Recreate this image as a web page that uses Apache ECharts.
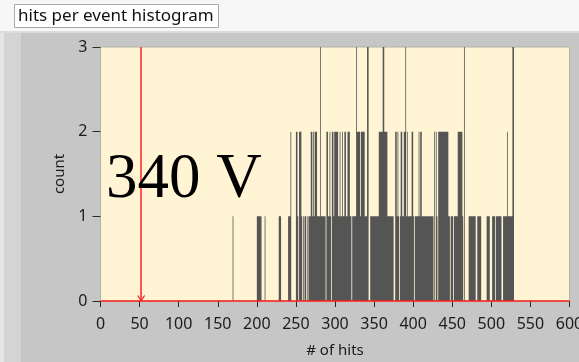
<!DOCTYPE html>
<html>
<head>
<meta charset="utf-8">
<script src="https://cdn.jsdelivr.net/npm/echarts@6/dist/echarts.min.js"></script>
<style>
  html, body { margin: 0; padding: 0; background: #f7f7f7; }
  #chart {
    width: 579px;
    height: 362px;
    background:
      linear-gradient(#f7f7f7, #f7f7f7) 0 0 / 100% 31px no-repeat,
      linear-gradient(#dcdcdc, #dcdcdc) 0 31px / 100% 2px no-repeat,
      linear-gradient(to right, #e6e6e6 0 4px, #d4d4d4 4px 21px, #c6c6c6 21px) 0 33px / 100% 329px no-repeat;
  }
</style>
</head>
<body>
<div id="chart"></div>
<script>
// Histogram of hits per event: counts for every hit value starting at firstHit.
const firstHit = 160;
const counts = [
  0,0,0,0,0,0,0,0,0,1, 0,0,0,0,0,0,0,0,0,0,   // 160-179
  0,0,0,0,0,0,0,0,0,0, 0,0,0,0,0,0,0,0,0,0,   // 180-199
  1,1,1,1,1,1,0,0,0,0, 1,0,0,0,0,0,0,0,0,0,   // 200-219
  0,0,0,0,0,0,0,0,1,1, 1,0,0,0,0,0,0,0,0,0,   // 220-239
  1,1,1,2,0,0,0,0,0,0, 2,2,1,0,2,2,2,1,0,1,   // 240-259
  0,1,1,0,1,0,1,1,1,2, 2,1,2,1,2,2,2,1,1,1,   // 260-279
  1,3,1,1,1,1,1,1,0,2, 2,1,1,2,1,0,2,2,1,2,   // 280-299
  2,2,2,2,1,1,2,1,1,2, 1,1,2,2,1,1,2,2,2,1,   // 300-319
  1,0,1,1,1,1,1,3,2,2, 2,2,1,2,2,2,2,2,1,1,   // 320-339
  1,3,3,0,0,1,1,1,1,1, 1,1,1,1,1,1,2,2,2,2,   // 340-359
  2,3,3,2,2,2,2,1,1,1, 1,1,1,1,1,0,0,2,2,1,   // 360-379
  2,1,0,1,2,2,1,1,2,2, 3,1,2,1,1,1,1,1,2,2,   // 380-399
  1,0,1,1,1,1,1,2,1,2, 2,1,1,1,1,1,1,1,1,1,   // 400-419
  1,1,1,1,1,1,0,2,0,2, 1,0,2,2,2,2,2,2,2,2,   // 420-439
  2,2,2,2,2,1,1,0,1,1, 1,0,1,1,1,1,1,2,2,2,   // 440-459
  2,2,2,1,0,3,0,0,0,0, 0,1,1,1,1,1,1,1,1,1,   // 460-479
  0,0,1,1,1,1,1,0,0,0, 0,0,0,0,1,1,1,1,0,0,   // 480-499
  0,1,1,1,1,0,1,1,1,1, 1,1,1,0,0,1,1,1,1,1,   // 500-519
  2,1,1,1,1,1,1,3,3,0, 0,0,0,0,0,0,0,0,0,0    // 520-539
];

// Axis ranges and the cursor position
const xRange = [0, 600];
const xStep = 50;
const yRange = [0, 3];
const yStep = 1;
const cursorHit = 52;

const titleText = 'hits per event histogram';
const noteText = '340 V';

// Outline of the histogram in data units: each bin h covers [h, h + 1) at its count
const outline = [[xRange[0], 0]];
for (let i = 0; i < counts.length; i++) {
  const h = firstHit + i;
  outline.push([h, counts[i]], [h + 1, counts[i]]);
}
outline.push([firstHit + counts.length, 0], [xRange[1], 0]);

const labelFont = '"Noto Sans", "Open Sans", sans-serif';
const inkColor = '#1c1c1c';
const cursorColor = '#ff1f1f';

const chart = echarts.init(document.getElementById('chart'), null, { renderer: 'canvas' });
chart.setOption({
  animation: false,
  backgroundColor: 'transparent',
  grid: {
    left: 100.5, right: 9.5, top: 47, bottom: 61,
    outerBoundsMode: 'none',
    containLabel: false,
    show: true,
    backgroundColor: '#fff5d4',
    borderColor: '#b4b0a4',
    borderWidth: 1
  },
  xAxis: {
    type: 'value',
    min: xRange[0], max: xRange[1], interval: xStep,
    offset: 5,
    axisLine: { show: false },
    axisTick: { show: true, length: 6, lineStyle: { color: '#2a2a2a', width: 1 } },
    axisLabel: { margin: 10, fontSize: 16, color: inkColor, fontFamily: labelFont, hideOverlap: false },
    splitLine: { show: false },
    name: '# of hits',
    nameLocation: 'middle',
    nameGap: 37,
    nameTextStyle: { fontSize: 15, color: inkColor, fontFamily: labelFont }
  },
  yAxis: {
    type: 'value',
    min: yRange[0], max: yRange[1], interval: yStep,
    offset: 3,
    axisLine: { show: false },
    axisTick: { show: true, length: 8, lineStyle: { color: '#2a2a2a', width: 1 } },
    axisLabel: { margin: 10, fontSize: 16, color: inkColor, fontFamily: labelFont },
    splitLine: { show: false },
    name: 'count',
    nameLocation: 'middle',
    nameRotate: 90,
    nameGap: 27,
    nameTextStyle: { fontSize: 15, color: inkColor, fontFamily: labelFont }
  },
  series: [{
    type: 'custom',
    coordinateSystem: 'cartesian2d',
    data: [[xRange[0], 0]],
    silent: true,
    z: 3,
    // The whole histogram is one filled outline placed through the axes
    renderItem: function (params, api) {
      return {
        type: 'polygon',
        shape: { points: outline.map(function (p) { return api.coord(p); }) },
        style: { fill: '#555555', stroke: null },
        silent: true
      };
    },
    markLine: {
      silent: true,
      symbol: 'none',
      label: { show: false },
      lineStyle: { color: cursorColor, width: 1.5, type: 'solid', opacity: 1 },
      data: [{ xAxis: cursorHit }, { yAxis: 0 }]
    },
    markPoint: {
      silent: true,
      symbol: 'path://M0,0 L5,7 L10,0',
      symbolSize: [7, 5],
      symbolOffset: [0, -3],
      label: { show: false },
      itemStyle: { color: 'none', borderColor: cursorColor, borderWidth: 1 },
      data: [{ coord: [cursorHit, 0] }]
    }
  }],
  graphic: [
    {
      type: 'rect',
      shape: { x: 14.5, y: 4.5, width: 204, height: 23 },
      style: { fill: '#ffffff', stroke: '#a8a8a8', lineWidth: 1 },
      z: 10
    },
    {
      type: 'text',
      x: 18, y: 16,
      style: {
        text: titleText,
        fill: '#111111',
        font: '17px ' + labelFont,
        verticalAlign: 'middle'
      },
      z: 11
    },
    {
      type: 'text',
      x: 106, y: 149,
      style: {
        text: noteText,
        fill: '#000000',
        font: '63px "Liberation Serif", "Times New Roman", serif',
        verticalAlign: 'top'
      },
      z: 20
    }
  ]
});
</script>
</body>
</html>
